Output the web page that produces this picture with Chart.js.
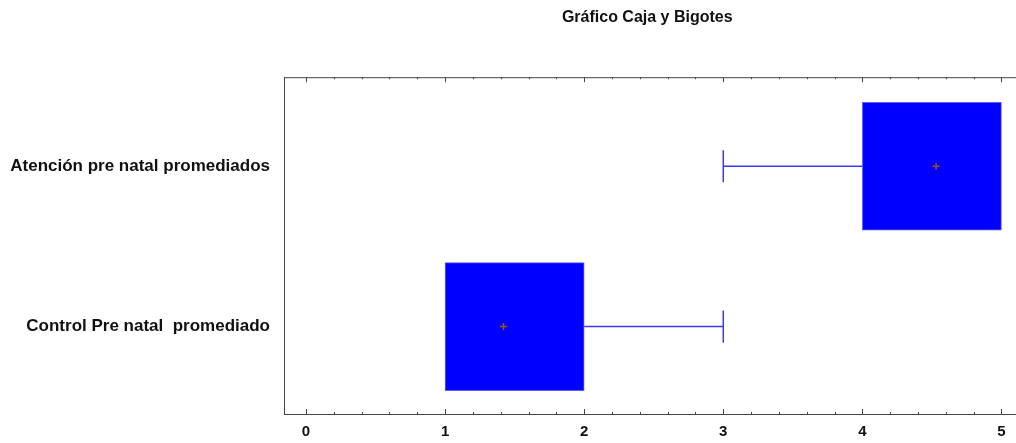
<!DOCTYPE html>
<html>
<head>
<meta charset="utf-8">
<script src="https://cdn.jsdelivr.net/npm/chart.js@4"></script>
<style>
  html, body { margin: 0; padding: 0; background: #fff; }
  #wrap { width: 1016px; height: 443px; }
</style>
</head>
<body>
<div id="wrap"><canvas id="boxChart"></canvas></div>
<script>
// data
const categories = ['Control Pre natal  promediado', 'Atención pre natal promediados'];
const catPos = [1, 2];
const whiskerMin = [1, 3];
const q1 = [1, 4];
const q3 = [2, 5];
const whiskerMax = [3, 5];
const means = [1.42, 4.53];
const xTicks = [0, 1, 2, 3, 4, 5];

const boxBlue = '#0000ff';
const lineBlue = '#3a3aff';
const capHalf = 0.1;
const labelFont = 'Liberation Sans Narrow, Arial Narrow, Liberation Sans, Arial';

// whisker segments: from box edge to whisker end, plus caps
const whiskerSets = [];
categories.forEach((c, i) => {
  if (whiskerMin[i] < q1[i]) {
    whiskerSets.push([{x: whiskerMin[i], y: catPos[i]}, {x: q1[i], y: catPos[i]}]);
    whiskerSets.push([{x: whiskerMin[i], y: catPos[i] - capHalf}, {x: whiskerMin[i], y: catPos[i] + capHalf}]);
  }
  if (whiskerMax[i] > q3[i]) {
    whiskerSets.push([{x: q3[i], y: catPos[i]}, {x: whiskerMax[i], y: catPos[i]}]);
    whiskerSets.push([{x: whiskerMax[i], y: catPos[i] - capHalf}, {x: whiskerMax[i], y: catPos[i] + capHalf}]);
  }
});

const datasets = [];
whiskerSets.forEach(pts => {
  datasets.push({
    type: 'line',
    data: pts,
    borderColor: lineBlue,
    borderWidth: 1.5,
    pointRadius: 0,
    fill: false,
    order: 2
  });
});
datasets.push({
  type: 'bar',
  data: categories.map((c, i) => ({x: [q1[i], q3[i]], y: catPos[i]})),
  backgroundColor: boxBlue,
  borderColor: '#5c5cff',
  borderWidth: 1,
  borderSkipped: false,
  barThickness: 128,
  order: 1
});
datasets.push({
  type: 'scatter',
  data: categories.map((c, i) => ({x: means[i], y: catPos[i]})),
  pointStyle: 'cross',
  pointRadius: 3.5,
  borderColor: '#a0501e',
  borderWidth: 1.5,
  order: 0
});

// frame lines (running to the right edge) and inward tick marks on top and bottom
const frameTicks = {
  id: 'frameTicks',
  afterDraw(chart) {
    const ctx = chart.ctx;
    const xs = chart.scales.x;
    const a = chart.chartArea;
    ctx.save();
    ctx.strokeStyle = '#444';
    ctx.lineWidth = 1;
    ctx.beginPath();
    ctx.moveTo(a.left, a.top + 0.5);
    ctx.lineTo(chart.width, a.top + 0.5);
    ctx.moveTo(a.left, Math.round(a.bottom) + 0.5);
    ctx.lineTo(chart.width, Math.round(a.bottom) + 0.5);
    for (let k = 0; k <= 25; k++) {
      const v = k / 5;
      const px = Math.round(xs.getPixelForValue(v)) + 0.5;
      const len = k % 5 === 0 ? 5 : 2;
      ctx.moveTo(px, a.top);
      ctx.lineTo(px, a.top + len);
      ctx.moveTo(px, a.bottom);
      ctx.lineTo(px, a.bottom - len);
    }
    ctx.stroke();
    ctx.restore();
  }
};

new Chart(document.getElementById('boxChart'), {
  type: 'bar',
  data: { datasets: datasets },
  plugins: [frameTicks],
  options: {
    indexAxis: 'y',
    responsive: true,
    maintainAspectRatio: false,
    animation: false,
    layout: { padding: 0 },
    plugins: {
      legend: { display: false },
      tooltip: { enabled: false },
      title: {
        display: true,
        text: 'Gráfico Caja y Bigotes',
        fullSize: false,
        color: '#111',
        font: { family: labelFont, size: 16, weight: 'bold' },
        padding: { top: 8, bottom: 50 }
      }
    },
    scales: {
      x: {
        type: 'linear',
        min: -0.158,
        max: 5.065,
        afterBuildTicks: s => { s.ticks = xTicks.map(v => ({value: v})); },
        afterFit: s => { s.height = 29; },
        grid: { display: false, drawTicks: false },
        border: { display: true, color: '#444', width: 1 },
        ticks: {
          color: '#111',
          padding: 9,
          maxRotation: 0,
          font: { family: labelFont, size: 15, weight: 'bold' }
        }
      },
      y: {
        type: 'linear',
        offset: false,
        min: 0.455,
        max: 2.555,
        afterBuildTicks: s => { s.ticks = catPos.map(v => ({value: v})); },
        afterFit: s => { s.width = 284; },
        grid: { display: false, drawTicks: false },
        border: { display: true, color: '#444', width: 1 },
        ticks: {
          color: '#111',
          padding: 14,
          callback: v => categories[catPos.indexOf(v)],
          font: { family: labelFont, size: 17, weight: 'bold' }
        }
      }
    }
  }
});
</script>
</body>
</html>
